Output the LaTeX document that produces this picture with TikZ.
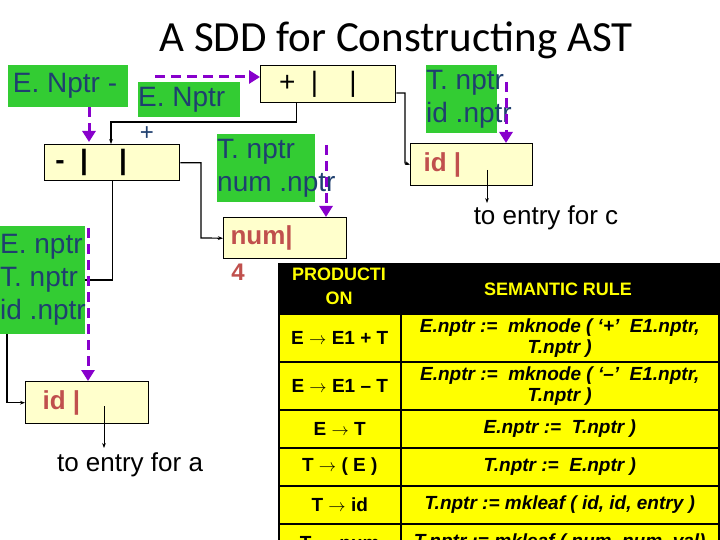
\documentclass[tikz,border=0pt]{standalone}
\usepackage{fontspec}
\setmainfont{Liberation Sans}
\newfontfamily\titlefont{Carlito}
\usetikzlibrary{arrows.meta}
\definecolor{leafgreen}{RGB}{51, 204, 51}
\definecolor{inknavy}{RGB}{31, 63, 111}
\definecolor{cellcream}{RGB}{255, 255, 204}
\definecolor{ptrpurple}{RGB}{136, 0, 204}
\definecolor{tokred}{RGB}{192, 80, 77}
\definecolor{rowyellow}{RGB}{255, 255, 0}
\newcommand{\attrtext}[2]{\makebox[#1][l]{\begin{tabular}{@{}l@{}}#2\end{tabular}}}

\begin{document}
\begin{tikzpicture}[x=1pt,y=-1pt,
    gbox/.style={fill=leafgreen, text=inknavy, inner sep=0pt, anchor=north west, font=\fontsize{28}{33}\selectfont},
    cell/.style={draw=black, line width=1.4pt, fill=cellcream, anchor=north west, inner sep=0pt},
    dptr/.style={draw=ptrpurple, line width=3pt, dash pattern=on 10pt off 6pt, -{Triangle[width=13pt,length=11pt]}},
    link/.style={draw=black, line width=1.2pt, -{Stealth[length=5pt]}},
    tcell/.style={draw=black, line width=1.5pt, fill=rowyellow, anchor=north west, inner sep=0pt, align=center, font=\fontsize{19}{20}\selectfont\bfseries}]
\useasboundingbox (0,0) rectangle (720,540);
\fill[white] (0,0) rectangle (720,540);

\node[font=\titlefont\fontsize{43}{46}\selectfont] (title) at (396,40) {A SDD for Constructing AST};

% syntax tree boxes
\node[cell, minimum width=135pt, minimum height=37pt] (plus) at (260,65) {};
\node[anchor=west, font=\fontsize{28}{28}\selectfont] at (plus.west) {\ \ +\ \ |\ \ \ \ |};
\node[cell, minimum width=135pt, minimum height=36pt] (minus) at (44,144) {};
\node[anchor=west, font=\fontsize{28}{28}\selectfont\bfseries] at (minus.west) {\ -\ \ |\ \ \ \ |};
\node[cell, minimum width=123pt, minimum height=41pt] (num) at (223,217) {};
\node[anchor=west, text=tokred, font=\fontsize{26}{26}\selectfont\bfseries] at ([xshift=4pt]num.west) {num|};
\node[text=tokred, font=\fontsize{24}{24}\selectfont\bfseries] (four) at (238,272) {4};
\node[cell, minimum width=122pt, minimum height=42pt] (idc) at (410,143) {};
\node[anchor=west, text=tokred, font=\fontsize{26}{26}\selectfont\bfseries] at ([xshift=10pt]idc.west) {id |};
\node[cell, minimum width=123pt, minimum height=42pt] (ida) at (25,381) {};
\node[anchor=west, text=tokred, font=\fontsize{26}{26}\selectfont\bfseries] at ([xshift=14pt]ida.west) {id |};

% pointers
\draw[link] (plus.south) ++(-32,0) |- (111,122) -- (111,144);
\draw[link] (minus.east) -| (201,238) -- (num.west);
\draw[link] ([yshift=-28pt]plus.north east) -| (405,163) -- (idc.west);
\draw[link] ([xshift=-68pt]minus.south east) |- (7,280) |- (ida.west);
\coordinate (cend) at (487,203);
\coordinate (aend) at (104,448);
\draw[link, line width=0.8pt] (487,170) -- (cend);
\draw[link, line width=0.8pt] (104,406) -- (aend);
\node[anchor=north, font=\fontsize{26}{26}\selectfont] (entc) at (546,202) {to entry for c};
\node[anchor=north, font=\fontsize{26}{26}\selectfont] (enta) at (130,449) {to entry for a};

% attribute labels
\node[gbox, minimum height=42pt] (eplus) at (8,65) {\attrtext{120pt}{\,E. Nptr -}};
\node[gbox, minimum height=35pt] (enptr) at (138,82) {\attrtext{102pt}{E. Nptr}};
\node[text=inknavy, font=\fontsize{24}{24}\selectfont] (plabel) at (147,134) {+};
\node[gbox, minimum height=68pt] (tnum) at (217,134) {\attrtext{98pt}{T. nptr\\num .nptr}};
\node[gbox, minimum height=68pt] (tid) at (426,65) {\attrtext{71pt}{T. nptr\\id .nptr}};
\node[gbox, minimum height=108pt] (eid) at (0,226) {\attrtext{85pt}{E. nptr\\T. nptr\\id .nptr}};

% dashed pointer flows
\draw[dptr] (155,77) -- (plus.west |- 0,77);
\draw[dptr] (eplus.south -| 89,0) -- (89,142);
\draw[dptr] (326,145) -- (num.north -| 326,0);
\draw[dptr] (506,82) -- (idc.north -| 506,0);
\draw[dptr] (88,228) -- (ida.north -| 88,0);

% semantic rule table
\begin{scope}
\clip (278,263) rectangle (720,540);
\fill[black] (278,263) rectangle (720,560);
\node[anchor=north, text=rowyellow, align=center, font=\fontsize{18}{24}\selectfont\bfseries] (hprod) at (339,264) {PRODUCTI\\ON};
\node[anchor=center, text=rowyellow, font=\fontsize{18}{24}\selectfont\bfseries] (hrule) at (558,289) {SEMANTIC RULE};
\node[tcell, minimum width=122pt, minimum height=48pt] (p1) at (278,313) {E $\rightarrow$ E1 + T};
\node[tcell, minimum width=318pt, minimum height=48pt, font=\fontsize{19}{21}\selectfont\bfseries\itshape] (r1) at (400,313) {E.nptr := \ mknode ( `+' \ E1.nptr,\\T.nptr )};
\node[tcell, minimum width=122pt, minimum height=48pt] (p2) at (278,361) {E $\rightarrow$ E1 -- T};
\node[tcell, minimum width=318pt, minimum height=48pt, font=\fontsize{19}{21}\selectfont\bfseries\itshape] (r2) at (400,361) {E.nptr := \ mknode ( `--' \ E1.nptr,\\T.nptr )};
\node[tcell, minimum width=122pt, minimum height=38pt] (p3) at (278,409) {E $\rightarrow$ T};
\node[tcell, minimum width=318pt, minimum height=38pt, font=\fontsize{19}{21}\selectfont\bfseries\itshape] (r3) at (400,409) {E.nptr := \ T.nptr )};
\node[tcell, minimum width=122pt, minimum height=38pt] (p4) at (278,447) {T $\rightarrow$ ( E )};
\node[tcell, minimum width=318pt, minimum height=38pt, font=\fontsize{19}{21}\selectfont\bfseries\itshape] (r4) at (400,447) {T.nptr := \ E.nptr )};
\node[tcell, minimum width=122pt, minimum height=38pt] (p5) at (278,485) {T $\rightarrow$ id};
\node[tcell, minimum width=318pt, minimum height=38pt, font=\fontsize{19}{21}\selectfont\bfseries\itshape] (r5) at (400,485) {T.nptr := mkleaf ( id, id, entry )};
\node[tcell, minimum width=122pt, minimum height=38pt] (p6) at (278,523) {T $\rightarrow$ num};
\node[tcell, minimum width=318pt, minimum height=38pt, font=\fontsize{19}{21}\selectfont\bfseries\itshape] (r6) at (400,523) {T.nptr := mkleaf ( num, num, val)};
\end{scope}
\end{tikzpicture}
\end{document}
